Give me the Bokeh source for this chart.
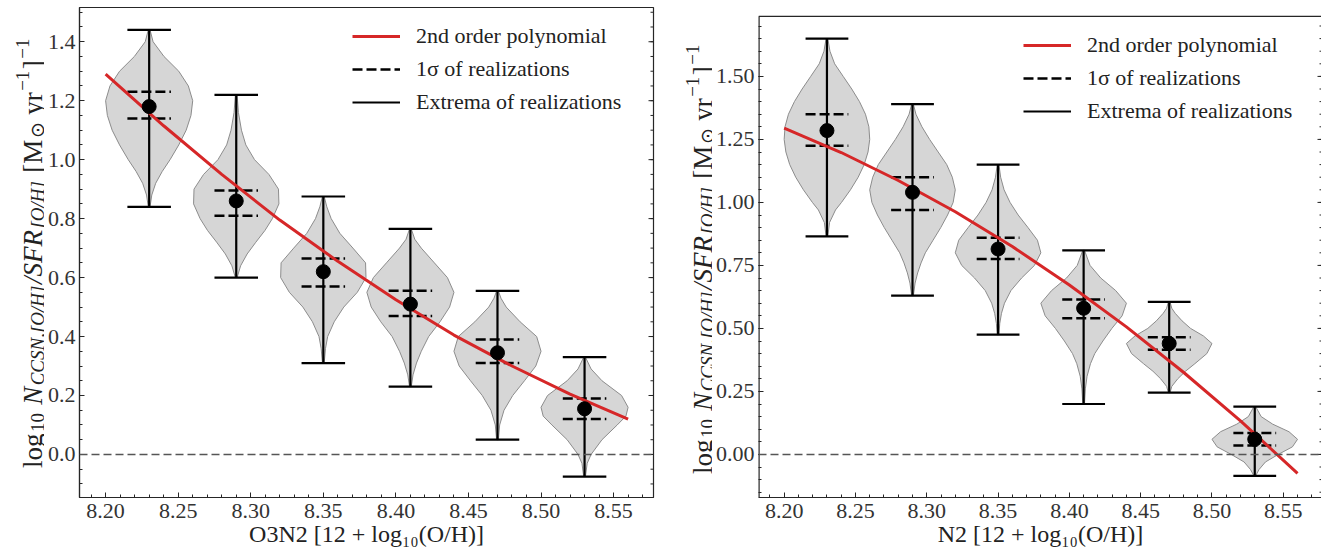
import numpy as np
from bokeh.plotting import figure
from bokeh.layouts import row
from bokeh.core.properties import value
from bokeh.models import (ColumnDataSource, FixedTicker, PrintfTickFormatter,
                          Span, Legend, LegendItem, Label)
from bokeh.embed import file_html
from bokeh.resources import INLINE

# ---------------------------------------------------------------- data
positions = [8.23, 8.29, 8.35, 8.41, 8.47, 8.53]
x_ticks = [8.20, 8.25, 8.30, 8.35, 8.40, 8.45, 8.50, 8.55]
o3n2_y_ticks = [0.0, 0.2, 0.4, 0.6, 0.8, 1.0, 1.2, 1.4]
n2_y_ticks = [0.0, 0.25, 0.50, 0.75, 1.00, 1.25, 1.50]

legend_labels = ["2nd order polynomial", "1σ of realizations", "Extrema of realizations"]
o3n2_xlabel = "O3N2 [12 + log₁₀(O/H)]"
n2_xlabel = "N2 [12 + log₁₀(O/H)]"

# O3N2 panel
o3n2_median = [1.18, 0.86, 0.62, 0.51, 0.345, 0.155]
o3n2_max = [1.44, 1.22, 0.875, 0.765, 0.555, 0.33]
o3n2_min = [0.84, 0.60, 0.31, 0.23, 0.05, -0.075]
o3n2_sig_hi = [1.23, 0.895, 0.665, 0.555, 0.39, 0.19]
o3n2_sig_lo = [1.14, 0.81, 0.57, 0.47, 0.31, 0.12]
fit_x = [8.20, 8.24, 8.28, 8.32, 8.36, 8.40, 8.44, 8.48, 8.52, 8.56]
o3n2_fit_y = [1.29, 1.115, 0.95, 0.795, 0.655, 0.525, 0.405, 0.30, 0.205, 0.12]

o3n2_violin_y = [
    [0.84, 0.88, 0.92, 0.96, 1.00, 1.05, 1.10, 1.15, 1.20, 1.25, 1.30, 1.35, 1.40, 1.44],
    [0.60, 0.64, 0.68, 0.72, 0.76, 0.80, 0.85, 0.90, 0.95, 1.00, 1.05, 1.10, 1.16, 1.22],
    [0.31, 0.36, 0.40, 0.45, 0.50, 0.55, 0.60, 0.65, 0.70, 0.75, 0.80, 0.84, 0.875],
    [0.23, 0.27, 0.31, 0.35, 0.40, 0.45, 0.50, 0.55, 0.60, 0.65, 0.70, 0.73, 0.765],
    [0.05, 0.10, 0.15, 0.20, 0.25, 0.30, 0.35, 0.40, 0.45, 0.50, 0.53, 0.555],
    [-0.075, -0.03, 0.0, 0.05, 0.10, 0.13, 0.16, 0.20, 0.25, 0.29, 0.33],
]
o3n2_violin_w = [
    [0.02, 0.06, 0.15, 0.30, 0.48, 0.68, 0.85, 0.96, 1.0, 0.90, 0.68, 0.34, 0.09, 0.02],
    [0.02, 0.10, 0.25, 0.45, 0.66, 0.83, 0.98, 0.97, 0.75, 0.42, 0.22, 0.12, 0.05, 0.02],
    [0.02, 0.05, 0.10, 0.25, 0.47, 0.78, 0.98, 0.97, 0.68, 0.38, 0.18, 0.08, 0.02],
    [0.02, 0.06, 0.14, 0.25, 0.42, 0.68, 0.90, 1.0, 0.85, 0.55, 0.25, 0.10, 0.02],
    [0.02, 0.05, 0.15, 0.35, 0.62, 0.88, 1.0, 0.90, 0.52, 0.20, 0.08, 0.02],
    [0.02, 0.06, 0.15, 0.40, 0.75, 0.95, 1.0, 0.85, 0.40, 0.15, 0.02],
]

# N2 panel
n2_median = [1.285, 1.04, 0.815, 0.58, 0.44, 0.06]
n2_max = [1.65, 1.39, 1.15, 0.81, 0.605, 0.19]
n2_min = [0.865, 0.63, 0.475, 0.20, 0.245, -0.085]
n2_sig_hi = [1.35, 1.10, 0.86, 0.615, 0.465, 0.085]
n2_sig_lo = [1.225, 0.97, 0.775, 0.54, 0.415, 0.035]
n2_fit_y = [1.295, 1.198, 1.087, 0.963, 0.825, 0.672, 0.506, 0.326, 0.133, -0.075]

n2_violin_y = [
    [0.865, 0.92, 0.97, 1.00, 1.05, 1.10, 1.15, 1.20, 1.25, 1.30, 1.35, 1.40, 1.45, 1.50, 1.55, 1.60, 1.65],
    [0.63, 0.68, 0.72, 0.76, 0.80, 0.85, 0.90, 0.95, 1.00, 1.05, 1.10, 1.15, 1.20, 1.25, 1.30, 1.35, 1.39],
    [0.475, 0.52, 0.56, 0.60, 0.65, 0.70, 0.75, 0.80, 0.85, 0.90, 0.95, 1.00, 1.05, 1.10, 1.15],
    [0.20, 0.26, 0.31, 0.36, 0.40, 0.45, 0.50, 0.55, 0.60, 0.65, 0.70, 0.75, 0.81],
    [0.245, 0.27, 0.30, 0.33, 0.36, 0.40, 0.44, 0.47, 0.50, 0.53, 0.56, 0.58, 0.605],
    [-0.085, -0.06, -0.03, 0.0, 0.03, 0.06, 0.09, 0.12, 0.15, 0.19],
]
n2_violin_w = [
    [0.02, 0.06, 0.20, 0.34, 0.55, 0.73, 0.87, 0.96, 1.0, 0.98, 0.90, 0.76, 0.58, 0.38, 0.18, 0.07, 0.02],
    [0.02, 0.06, 0.12, 0.20, 0.30, 0.48, 0.66, 0.82, 0.95, 1.0, 0.93, 0.80, 0.60, 0.40, 0.22, 0.08, 0.02],
    [0.02, 0.04, 0.08, 0.15, 0.30, 0.55, 0.85, 1.0, 0.92, 0.70, 0.47, 0.28, 0.14, 0.06, 0.02],
    [0.02, 0.04, 0.08, 0.16, 0.26, 0.45, 0.66, 0.90, 1.0, 0.75, 0.40, 0.15, 0.02],
    [0.02, 0.06, 0.20, 0.38, 0.60, 0.88, 1.0, 0.80, 0.50, 0.30, 0.14, 0.06, 0.02],
    [0.02, 0.10, 0.25, 0.55, 0.88, 1.0, 0.80, 0.42, 0.15, 0.02],
]

# ---------------------------------------------------------------- style
FONT = "Liberation Serif"
INK = "#262626"
RED = "#d62728"
VIOLIN_HALF = 0.03
CAP_HALF = 0.015
H = 554
TOP = 7       # common top border (page px)
BOTTOM = 57   # common bottom border (page px)
FH = H - TOP - BOTTOM

REG_W = {"l": .278, "o": .5, "g": .5, "1": .5, "0": .5, " ": .25, "[": .333, "]": .333,
         "M": .889, "y": .5, "r": .333, "−": .564, "⊙": .8}
ITA_W = {"N": .667, "C": .667, "S": .5, ",": .25, "[": .389, "]": .389, "O": .722,
         "/": .278, "H": .722, "F": .611, "R": .611, " ": .25}


def text_w(s, italic):
    table = ITA_W if italic else REG_W
    return sum(table.get(c, 0.5) for c in s)


YLABEL_PIECES = [("log", False, "n"), ("10", False, "sub"), (" ", False, "gap"),
                 ("N", True, "n"), ("CCSN,[O/H]", True, "sub"), ("/SFR", True, "n"),
                 ("[O/H]", True, "sub"), (" ", False, "gap"), ("[M", False, "n"),
                 ("⊙", False, "sub"), (" ", False, "gap"), ("yr", False, "n"),
                 ("−1", False, "sup"), ("]", False, "n"), ("−1", False, "sup")]


def label_strip(width, base_x, center_y_page):
    """A narrow figure that carries the rotated, composed y-axis label.
    Its frame covers page rows TOP..H-BOTTOM; y is measured upward from page bottom."""
    s = figure(width=width, height=H, x_range=(0, width), y_range=(BOTTOM, H - TOP),
               x_axis_type=None, y_axis_type=None, title=None,
               output_backend="svg", toolbar_location=None,
               min_border_left=0, min_border_right=0,
               min_border_top=TOP, min_border_bottom=BOTTOM,
               outline_line_color=None,
               background_fill_color="white", border_fill_color="white")
    s.xgrid.visible = False
    s.ygrid.visible = False
    S = 27
    SUB = 19
    advs = []
    for t, it, role in YLABEL_PIECES:
        size = SUB if role in ("sub", "sup") else S
        advs.append(text_w(t, it) * size + (0 if role == "gap" else 1.5))
    L = sum(advs)
    cur = (H - center_y_page) - L / 2.0
    for (t, it, role), a in zip(YLABEL_PIECES, advs):
        if role != "gap":
            size = SUB if role in ("sub", "sup") else S
            shift = 0.2 * S if role == "sub" else (-0.36 * S if role == "sup" else 0.0)
            s.add_layout(Label(x=base_x + shift, y=cur, text=t, angle=np.pi / 2,
                               text_align="left", text_baseline="alphabetic",
                               text_font=FONT, text_font_size=f"{size}px",
                               text_font_style="italic" if it else "normal",
                               text_color="#222222"))
        cur += a
    return s


def style_axis(ax, ticks, minor, fmt):
    ax.ticker = FixedTicker(ticks=ticks, minor_ticks=minor)
    ax.formatter = PrintfTickFormatter(format=fmt)
    ax.major_tick_in = 5
    ax.major_tick_out = 0
    ax.minor_tick_in = 3
    ax.minor_tick_out = 0
    ax.axis_line_color = INK
    ax.axis_line_width = 1.2
    ax.major_tick_line_color = INK
    ax.minor_tick_line_color = INK
    ax.major_label_text_font = FONT
    ax.major_label_text_font_size = "22px"
    ax.major_label_text_color = "#333333"
    ax.major_label_standoff = 4


def make_panel(g, med, vmax, vmin, shi, slo, fit_y, vy, vw, yticks, yfmt, xlabel):
    xr0, xr1 = g["xr"]
    yr0, ytop = g["ybottom"], g["ytop"]
    ppy = g["ppy"]
    yr1 = yr0 + FH / ppy
    p = figure(frame_width=g["fw"], frame_height=FH,
               x_range=(xr0, xr1), y_range=(yr0, yr1), title=None,
               output_backend="svg", toolbar_location=None,
               min_border_left=g["bl"], min_border_right=g["br"],
               min_border_top=TOP, min_border_bottom=BOTTOM,
               background_fill_color="white", border_fill_color="white")
    p.xgrid.visible = False
    p.ygrid.visible = False

    xminor = [round(8.18 + 0.01 * i, 2) for i in range(41)]
    yminor = [round(-0.20 + 0.05 * i, 2) for i in range(42)]
    yminor = [v for v in yminor if yr0 <= v <= ytop]
    style_axis(p.xaxis[0], x_ticks, xminor, "%.2f")
    style_axis(p.yaxis[0], yticks, yminor, yfmt)
    p.xaxis[0].major_label_standoff = 6
    p.xaxis[0].axis_label = xlabel
    p.xaxis[0].axis_label_text_font = FONT
    p.xaxis[0].axis_label_text_font_size = "24px"
    p.xaxis[0].axis_label_text_font_style = "normal"
    p.xaxis[0].axis_label_text_color = "#222222"
    p.xaxis[0].axis_label_standoff = 0

    # frame box (the top edge may sit below the common top border)
    if ytop < yr1 - 1e-9:
        p.outline_line_color = None
        p.yaxis[0].axis_line_color = None
        p.segment(x0=[xr0, xr1], y0=[yr0, yr0], x1=[xr0, xr1], y1=[ytop, ytop],
                  line_color=INK, line_width=2.4)
        p.segment(x0=[xr0], y0=[ytop], x1=[xr1], y1=[ytop], line_color=INK, line_width=1.2)
    else:
        p.outline_line_color = INK
        p.outline_line_width = 1.2
    # inward ticks on the right edge
    p.ray(x=[xr1] * len(yticks), y=yticks, length=5, length_units="screen",
          angle=np.pi, line_color=INK, line_width=1)
    p.ray(x=[xr1] * len(yminor), y=yminor, length=3, length_units="screen",
          angle=np.pi, line_color=INK, line_width=1)

    # violins
    xs, ys = [], []
    for pos, yy, ww in zip(positions, vy, vw):
        yy = np.array(yy)
        ww = np.array(ww) * VIOLIN_HALF
        xs.append(list(pos - ww) + list((pos + ww)[::-1]))
        ys.append(list(yy) + list(yy[::-1]))
    p.patches(xs, ys, fill_color="#d6d6d6", line_color="#8c8c8c", line_width=1)

    pos = np.array(positions)
    bars = ColumnDataSource(dict(x=pos, lo=vmin, hi=vmax))
    bar_r = p.segment(x0="x", y0="lo", x1="x", y1="hi", source=bars,
                      line_color="black", line_width=2.2)
    caps = ColumnDataSource(dict(x0=np.concatenate([pos - CAP_HALF, pos - CAP_HALF]),
                                 x1=np.concatenate([pos + CAP_HALF, pos + CAP_HALF]),
                                 y=list(vmin) + list(vmax)))
    p.segment(x0="x0", y0="y", x1="x1", y1="y", source=caps,
              line_color="black", line_width=2.2)
    sig = ColumnDataSource(dict(x0=np.concatenate([pos - CAP_HALF, pos - CAP_HALF]),
                                x1=np.concatenate([pos + CAP_HALF, pos + CAP_HALF]),
                                y=list(slo) + list(shi)))
    sig_r = p.segment(x0="x0", y0="y", x1="x1", y1="y", source=sig,
                      line_color="black", line_width=2.5, line_dash="10 4")

    p.add_layout(Span(location=0, dimension="width", line_color="#555555",
                      line_dash="8 4", line_width=1.5))

    fit_r = p.line(fit_x, fit_y, line_color=RED, line_width=3)
    p.scatter(positions, med, size=14, fill_color="black", line_color="black")

    leg = Legend(items=[LegendItem(label=legend_labels[0], renderers=[fit_r]),
                        LegendItem(label=legend_labels[1], renderers=[sig_r]),
                        LegendItem(label=legend_labels[2], renderers=[bar_r])],
                 location="top_right", margin=g["lm"], padding=6, spacing=7,
                 glyph_width=48, glyph_height=22, label_standoff=16,
                 label_width=g["lw"],
                 label_text_font=FONT, label_text_font_size="22px",
                 label_text_color="#222222",
                 border_line_color=None, background_fill_alpha=0)
    p.add_layout(leg)
    return p


# geometry: frame width, x range, y value at frame bottom, px per y unit, y at visible top edge
g1 = dict(fw=574, xr=(8.182, 8.5775), ybottom=-0.146, ppy=294.8, ytop=1.516,
          bl=33, br=9, lm=16, lw=221)
g2 = dict(fw=564, xr=(8.182, 8.5775), ybottom=-0.171, ppy=252.0, ytop=1.738,
          bl=44, br=3, lm=25, lw=210)
g1["ytop"] = g1["ybottom"] + FH / g1["ppy"]

s1 = label_strip(44, 32, 252)
p1 = make_panel(g1, o3n2_median, o3n2_max, o3n2_min, o3n2_sig_hi, o3n2_sig_lo,
                o3n2_fit_y, o3n2_violin_y, o3n2_violin_w, o3n2_y_ticks, "%.1f", o3n2_xlabel)
s2 = label_strip(50, 40, 258)
p2 = make_panel(g2, n2_median, n2_max, n2_min, n2_sig_hi, n2_sig_lo,
                n2_fit_y, n2_violin_y, n2_violin_w, n2_y_ticks, "%.2f", n2_xlabel)

layout = row(s1, p1, s2, p2)
open("out.html", "w").write(file_html(layout, INLINE))
